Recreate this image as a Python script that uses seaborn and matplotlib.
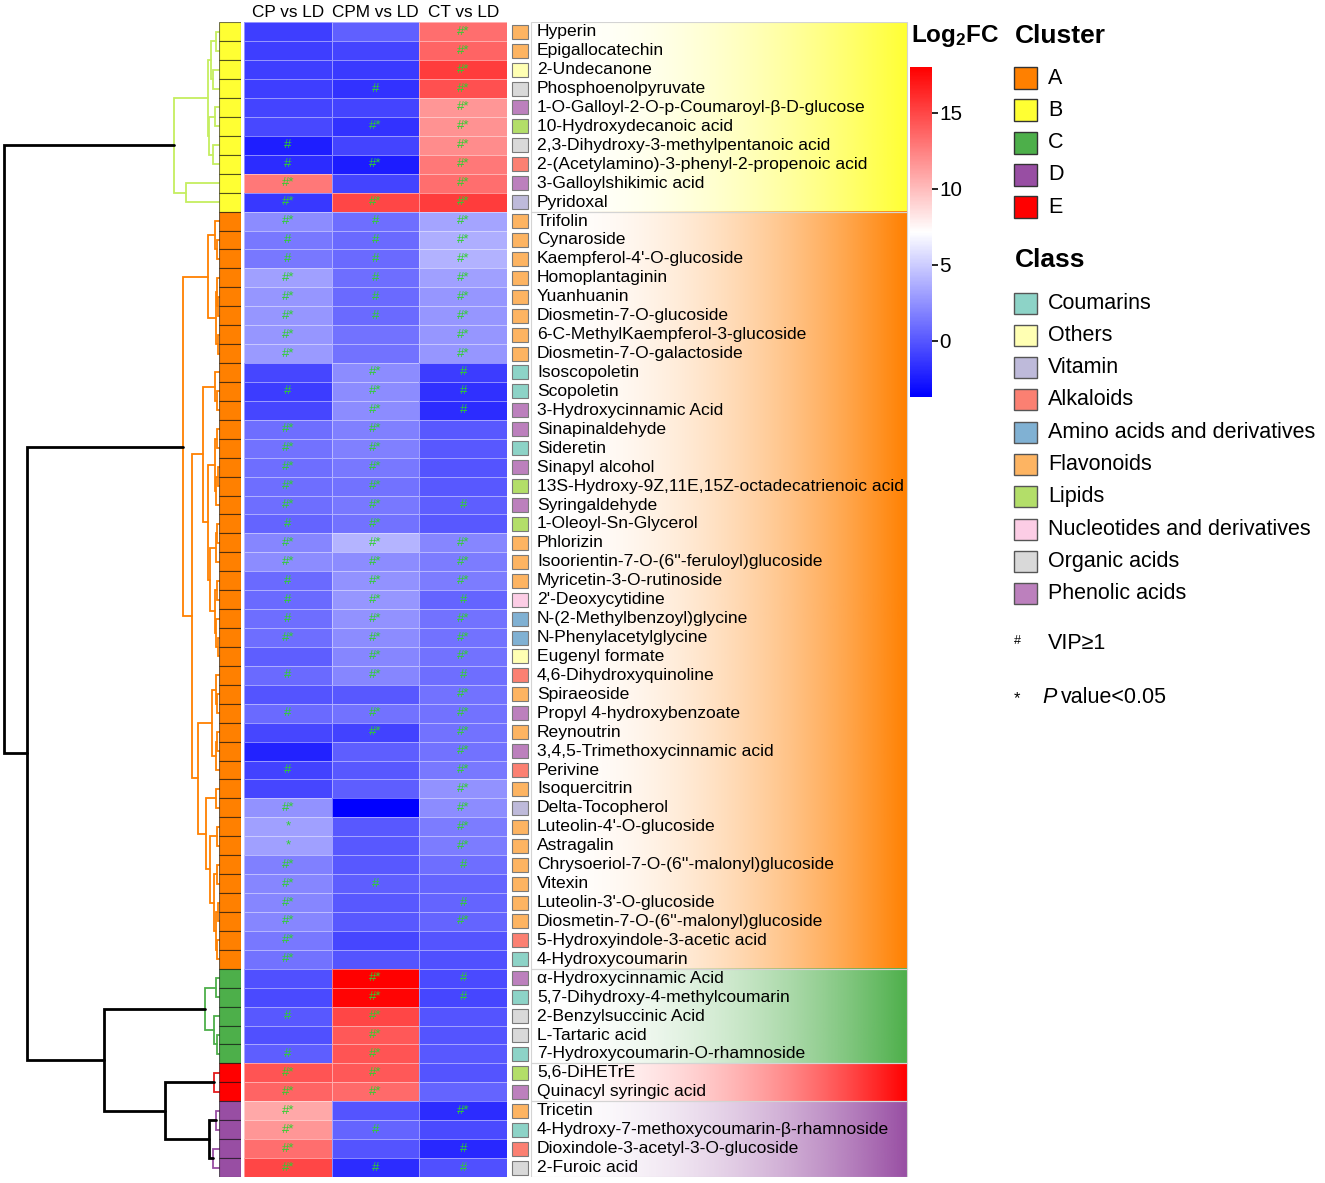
import numpy as np
import pandas as pd
import seaborn as sns
import matplotlib.pyplot as plt
from matplotlib.colors import LinearSegmentedColormap, to_rgb
from matplotlib.patches import Rectangle

# ---- data (rows top to bottom) ----
metabolites = [
    "Hyperin", "Epigallocatechin", "2-Undecanone", "Phosphoenolpyruvate",
    "1-O-Galloyl-2-O-p-Coumaroyl-β-D-glucose", "10-Hydroxydecanoic acid",
    "2,3-Dihydroxy-3-methylpentanoic acid", "2-(Acetylamino)-3-phenyl-2-propenoic acid",
    "3-Galloylshikimic acid", "Pyridoxal",
    "Trifolin", "Cynaroside", "Kaempferol-4'-O-glucoside", "Homoplantaginin", "Yuanhuanin",
    "Diosmetin-7-O-glucoside", "6-C-MethylKaempferol-3-glucoside", "Diosmetin-7-O-galactoside",
    "Isoscopoletin", "Scopoletin", "3-Hydroxycinnamic Acid", "Sinapinaldehyde", "Sideretin",
    "Sinapyl alcohol", "13S-Hydroxy-9Z,11E,15Z-octadecatrienoic acid", "Syringaldehyde",
    "1-Oleoyl-Sn-Glycerol", "Phlorizin", "Isoorientin-7-O-(6''-feruloyl)glucoside",
    "Myricetin-3-O-rutinoside", "2'-Deoxycytidine", "N-(2-Methylbenzoyl)glycine",
    "N-Phenylacetylglycine", "Eugenyl formate", "4,6-Dihydroxyquinoline", "Spiraeoside",
    "Propyl 4-hydroxybenzoate", "Reynoutrin", "3,4,5-Trimethoxycinnamic acid", "Perivine",
    "Isoquercitrin", "Delta-Tocopherol", "Luteolin-4'-O-glucoside", "Astragalin",
    "Chrysoeriol-7-O-(6''-malonyl)glucoside", "Vitexin", "Luteolin-3'-O-glucoside",
    "Diosmetin-7-O-(6''-malonyl)glucoside", "5-Hydroxyindole-3-acetic acid", "4-Hydroxycoumarin",
    "α-Hydroxycinnamic Acid", "5,7-Dihydroxy-4-methylcoumarin", "2-Benzylsuccinic Acid",
    "L-Tartaric acid", "7-Hydroxycoumarin-O-rhamnoside",
    "5,6-DiHETrE", "Quinacyl syringic acid",
    "Tricetin", "4-Hydroxy-7-methoxycoumarin-β-rhamnoside", "Dioxindole-3-acetyl-3-O-glucoside",
    "2-Furoic acid",
]
classes = [
    "Flavonoids", "Flavonoids", "Others", "Organic acids", "Phenolic acids", "Lipids",
    "Organic acids", "Alkaloids", "Phenolic acids", "Vitamin",
    "Flavonoids", "Flavonoids", "Flavonoids", "Flavonoids", "Flavonoids", "Flavonoids",
    "Flavonoids", "Flavonoids", "Coumarins", "Coumarins", "Phenolic acids", "Phenolic acids",
    "Coumarins", "Phenolic acids", "Lipids", "Phenolic acids", "Lipids", "Flavonoids",
    "Flavonoids", "Flavonoids", "Nucleotides and derivatives", "Amino acids and derivatives",
    "Amino acids and derivatives", "Others", "Alkaloids", "Flavonoids", "Phenolic acids",
    "Flavonoids", "Phenolic acids", "Alkaloids", "Flavonoids", "Vitamin", "Flavonoids",
    "Flavonoids", "Flavonoids", "Flavonoids", "Flavonoids", "Flavonoids", "Alkaloids",
    "Coumarins", "Phenolic acids", "Coumarins", "Organic acids", "Organic acids", "Coumarins",
    "Lipids", "Phenolic acids", "Flavonoids", "Coumarins", "Alkaloids", "Organic acids",
]
clusters = ["B"] * 10 + ["A"] * 40 + ["C"] * 5 + ["E"] * 2 + ["D"] * 4

cp_vs_ld = [-1.0, -1.0, -1.0, -1.0, -0.8, -0.6, -2.4, -1.8, 12.9, -1.3,
            2.3, 1.4, 1.4, 3.1, 2.7, 2.7, 2.7, 2.9, -0.7, -1.1,
            -0.7, 1.0, 1.2, 1.0, 1.0, 1.0, 0.6, 2.0, 2.3, 0.8,
            0.8, 1.0, 1.0, 0.3, 0.8, -0.1, 0.8, -0.7, -2.2, -0.9,
            -0.7, 2.5, 3.1, 3.1, 1.8, 2.0, 2.0, 2.0, 1.4, 1.2,
            -0.3, -0.5, 0.1, -0.3, 0.3, 14.4, 13.7, 10.8, 11.6, 13.3,
            15.0]
cpm_vs_ld = [0.4, -0.8, -1.2, -1.5, -0.8, -1.5, -0.8, -2.5, -0.8, 15.0,
             1.0, 0.8, 0.8, 1.0, 0.8, 0.8, 1.2, 1.2, 2.3, 2.3,
             2.3, 1.8, 1.8, 1.4, 1.2, 1.4, 1.2, 4.0, 2.3, 2.5,
             2.7, 2.5, 2.3, 2.0, 2.0, 0.1, 1.2, -0.9, 0.3, 0.1,
             0.3, -3.7, 0.1, 0.1, 0.1, 0.3, 0.1, 0.1, -0.7, -0.1,
             18.0, 17.8, 15.0, 14.2, 14.4, 14.2, 13.5, -0.1, 0.6, -0.1,
             -1.8]
ct_vs_ld = [13.3, 13.7, 15.4, 14.6, 11.6, 11.8, 12.0, 12.9, 13.3, 15.4,
            3.3, 3.7, 3.9, 3.1, 2.7, 2.7, 2.7, 2.7, -1.1, -1.6,
            -1.8, 0.1, 0.1, -0.1, 0.1, 0.3, 0.1, 2.0, 1.6, 1.6,
            0.6, 1.2, 1.2, 1.2, 1.0, 1.2, 1.2, 1.2, 1.2, 1.4,
            2.5, 2.3, 1.6, 1.6, 1.0, 0.6, 0.6, 0.6, -0.1, -0.3,
            -0.5, -0.7, -0.1, -0.1, 0.1, -0.1, 0.6, -1.8, -0.5, -2.0,
            -0.3]

# significance marks: '#' VIP>=1, '*' P<0.05
cp_sig = ['', '', '', '', '', '', '#', '#', '#*', '#*',
          '#*', '#', '#', '#*', '#*', '#*', '#*', '#*', '', '#',
          '', '#*', '#*', '#*', '#*', '#*', '#', '#*', '#*', '#',
          '#', '#', '#*', '', '#', '', '#', '', '', '#',
          '', '#*', '*', '*', '#*', '#*', '#*', '#*', '#*', '#*',
          '', '', '#', '', '#', '#*', '#*', '#*', '#*', '#*',
          '#*']
cpm_sig = ['', '', '', '#', '', '#*', '', '#*', '', '#*',
           '#', '#', '#', '#', '#', '#', '', '', '#*', '#*',
           '#*', '#*', '#*', '#*', '#*', '#*', '#*', '#*', '#*', '#*',
           '#*', '#*', '#*', '#*', '#*', '', '#*', '#*', '', '',
           '', '', '', '', '', '#', '', '', '', '',
           '#*', '#*', '#*', '#*', '#*', '#*', '#*', '', '#', '',
           '#']
ct_sig = ['#*', '#*', '#*', '#*', '#*', '#*', '#*', '#*', '#*', '#*',
          '#*', '#*', '#*', '#*', '#*', '#*', '#*', '#*', '#', '#',
          '#', '', '', '', '', '#', '', '#*', '#*', '#*',
          '#', '#*', '#*', '#*', '#', '#*', '#*', '#*', '#*', '#*',
          '#*', '#*', '#*', '#*', '#', '', '#', '#*', '', '',
          '#', '#', '', '', '', '', '', '#*', '', '#',
          '#']

comparisons = ["CP vs LD", "CPM vs LD", "CT vs LD"]
cluster_order = ["A", "B", "C", "D", "E"]
class_order = ["Coumarins", "Others", "Vitamin", "Alkaloids", "Amino acids and derivatives",
               "Flavonoids", "Lipids", "Nucleotides and derivatives", "Organic acids",
               "Phenolic acids"]

# dendrogram: [height, left, right, colour]; leaves are row numbers
cB, cA, cC, cD, cE = "#c5ee5f", "#ff8000", "#4daf4a", "#984ea3", "#e41a1c"
tree_B = [45, [11, [8, [3, 0, 1, None], [6, 2, 3, None], None],
               [10, [4, 4, 5, None], [6, 6, 7, None], None], None],
          [33, 8, 9, None], cB]
tree_A = [36,
          [11, [4, 10, [2, 11, 12, None], None],
           [3, [2, 13, [1, 14, 15, None], None], [1.5, 16, 17, None], None], None],
          [27,
           [16, [4, 18, [2, 19, 20, None], None],
            [11, [4, [2, 21, 22, None], [3, [1.5, 23, 24, None], 25, None], None],
             [9, [3, [2, 26, 27, None], 28, None],
              [4, [2, 29, 30, None], [3, 31, [1.5, 32, 33, None], None], None], None], None], None],
           [21, [7, [3, 34, [2, 35, 36, None], None], [3.5, [2, 37, 38, None], 39, None], None],
            [13, [3, 40, 41, None],
             [9, [2, 42, 43, None],
              [5, [2, 44, 45, None], [3, [1.5, 46, 47, None], [2, 48, 49, None], None], None], None],
             None], None], None], cA]
tree_C = [14, [3, 50, 51, None], [5, 52, [2, 53, 54, None], None], cC]
tree_E = [5, 55, 56, cE]
tree_D = [10, [3, 57, 58, cD], [6, 59, 60, cD], "k"]
tree = [215, tree_B, [192, tree_A, [115, tree_C, [54, tree_E, tree_D, "k"], "k"], "k"], "k"]

# ---- style ----
sns.set_style("white")
plt.rcParams["font.family"] = ["Liberation Sans", "DejaVu Sans"]
plt.rcParams["mathtext.fontset"] = "custom"
plt.rcParams["mathtext.rm"] = "Liberation Sans"
plt.rcParams["mathtext.bf"] = "Liberation Sans:bold"
plt.rcParams["text.color"] = "black"
plt.rcParams["xtick.color"] = "black"
plt.rcParams["ytick.color"] = "black"

clu_colors = {"A": "#ff8000", "B": "#ffff33", "C": "#4daf4a", "D": "#984ea3", "E": "#ff0000"}
class_colors = dict(zip(class_order, sns.color_palette("Set3", 10)))

W, H = 1325, 1183
top, bot = 22.3, 1177
n = len(metabolites)

fig = plt.figure(figsize=(W / 100, H / 100), dpi=100)


def px_axes(x0, y0, x1, y1):
    return fig.add_axes([x0 / W, 1 - y1 / H, (x1 - x0) / W, (y1 - y0) / H])


# ---- heatmap ----
ax_hm = px_axes(244, top, 507, bot)
cax = px_axes(910, 67, 932, 397)
cmap = LinearSegmentedColormap.from_list("bwr2", ["#0000ff", "#ffffff", "#ff0000"])
df = pd.DataFrame({comparisons[0]: cp_vs_ld, comparisons[1]: cpm_vs_ld,
                   comparisons[2]: ct_vs_ld}, index=metabolites)
annot = np.array([cp_sig, cpm_sig, ct_sig]).T
sns.heatmap(df, ax=ax_hm, cmap=cmap, vmin=-3.7, vmax=18, annot=annot, fmt="",
            annot_kws={"color": "#2fd02f", "fontsize": 9.5},
            linewidths=0.6, linecolor=(1, 1, 1, 0.45), cbar_ax=cax, yticklabels=False)
ax_hm.xaxis.tick_top()
ax_hm.tick_params(axis="x", length=0, pad=2, labelsize=12.4, rotation=0)
ax_hm.set_xlabel("")
ax_hm.set_ylabel("")

cb = ax_hm.collections[0].colorbar
cb.set_ticks([0, 5, 10, 15])
cb.outline.set_visible(False)
cax.tick_params(labelsize=14.9, length=4, width=1.2, pad=1)
fig.text(911 / W, 1 - 36 / H, r"$\mathbf{Log_2FC}$", fontsize=17.5, va="center", ha="left")

# ---- dendrogram ----
ax_d = px_axes(0, top, 219, bot)
ax_d.set_xlim(219, 0)
ax_d.set_ylim(n, 0)
ax_d.axis("off")


def height(node):
    return 0 if isinstance(node, int) else node[0]


def draw(node, color):
    if isinstance(node, int):
        return node + 0.5
    h, a, b, c = node
    col = c or color
    ya = draw(a, col)
    yb = draw(b, col)
    lw = 2.0 if col == "k" else 1.3
    ax_d.plot([height(a), h, h, height(b)], [ya, ya, yb, yb], color=col, lw=lw,
              solid_joinstyle="miter", clip_on=False)
    return (ya + yb) / 2


draw(tree, "k")

# ---- cluster column ----
ax_c = px_axes(219, top, 241, bot)
ax_c.barh(np.arange(n) + 0.5, 1, height=1, color=[clu_colors[c] for c in clusters],
          edgecolor=(0, 0, 0, 0.55), linewidth=0.8)
ax_c.set_xlim(0, 1)
ax_c.set_ylim(n, 0)
ax_c.axis("off")

# ---- labels with class squares and gradient background ----
ax_l = px_axes(507, top, 910, bot)
start = 0
for i in range(1, n + 1):
    if i == n or clusters[i] != clusters[start]:
        rgb = np.array(to_rgb(clu_colors[clusters[start]]))
        t = np.linspace(0, 1, 300)
        grad = np.zeros((1, 300, 4))
        grad[0, :, :3] = rgb
        grad[0, :, 3] = t ** 2
        ax_l.imshow(grad, extent=[531, 907, i, start], aspect="auto", zorder=0)
        ax_l.add_patch(Rectangle((531, start), 376, i - start, fill=False,
                                 edgecolor="#d4d4d4", lw=0.8, zorder=1))
        start = i
ax_l.barh(np.arange(n) + 0.5, 16, left=512, height=0.74,
          color=[class_colors[c] for c in classes], edgecolor="#7a7a7a", linewidth=0.8)
for i, name in enumerate(metabolites):
    ax_l.text(537, i + 0.5, name, va="center", ha="left", fontsize=12.6, zorder=3)
ax_l.set_xlim(507, 910)
ax_l.set_ylim(n, 0)
ax_l.axis("off")

# ---- legends ----
ax_o = fig.add_axes([0, 0, 1, 1])
ax_o.set_xlim(0, W)
ax_o.set_ylim(H, 0)
ax_o.axis("off")
ax_o.patch.set_alpha(0)

ax_o.text(1015, 36, "Cluster", fontsize=19, fontweight="bold", va="center")
for k, c in enumerate(cluster_order):
    y = 78 + k * 32.3
    ax_o.add_patch(Rectangle((1014, y - 11), 23, 22, facecolor=clu_colors[c],
                             edgecolor="#333333", lw=1))
    ax_o.text(1048, y, c, fontsize=15.5, va="center")

ax_o.text(1015, 260, "Class", fontsize=19, fontweight="bold", va="center")
for k, c in enumerate(class_order):
    y = 303 + k * 32.3
    ax_o.add_patch(Rectangle((1014, y - 10.5), 23, 21, facecolor=class_colors[c],
                             edgecolor="#555555", lw=1))
    ax_o.text(1048, y, c, fontsize=15.5, va="center")

ax_o.text(1014, 641, "#", fontsize=9, va="center")
ax_o.text(1048, 643, "VIP≥1", fontsize=15.5, va="center")
ax_o.text(1014, 699, "*", fontsize=12, va="center")
ax_o.text(1042, 697, "P", fontsize=15.5, va="center", style="italic")
ax_o.text(1061, 697, "value<0.05", fontsize=15.5, va="center")

fig.savefig("out.png", dpi=100)
